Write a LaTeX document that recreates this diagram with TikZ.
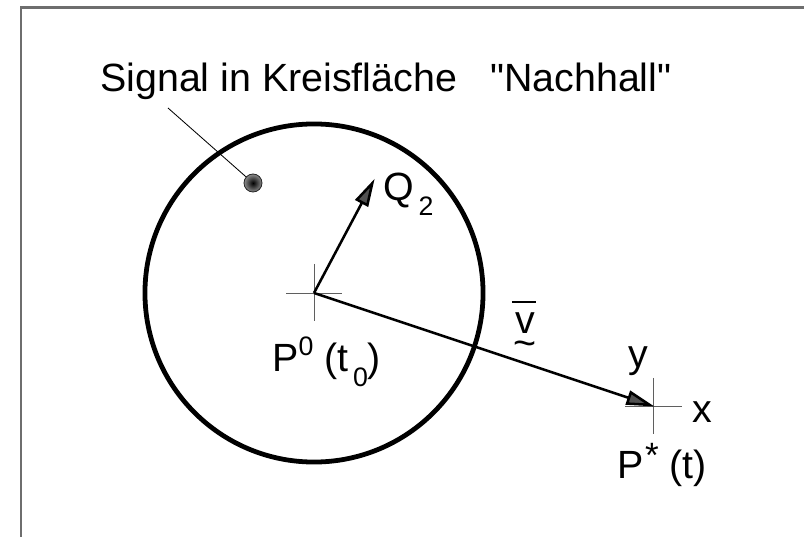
\documentclass[tikz,border=0pt]{standalone}
\usepackage{fontspec}
\setmainfont{Liberation Sans}
\usetikzlibrary{arrows.meta,positioning,calc,shadings}
\definecolor{framegray}{RGB}{110,110,110}
\definecolor{crossgray}{RGB}{95,95,95}
\definecolor{tipgray}{RGB}{80,80,80}
\newcommand\hochx[1]{\raisebox{0.42em}{\fontsize{19}{19}\selectfont #1}}
\newcommand\tiefx[1]{\hspace{0.12em}\raisebox{-0.38em}{\fontsize{19}{19}\selectfont #1}}
\newcommand\sternx{\hspace{0.04em}\raisebox{0.3em}{\fontsize{25}{25}\selectfont *}}
\tikzset{
  title/.style={
    font=\fontsize{28}{34}\selectfont,
    inner sep=0pt,
    anchor=base west
  },
  lbl/.style={
    font=\fontsize{28}{32}\selectfont,
    inner sep=0pt
  },
  vecarr/.style={
    -{Triangle[length=7mm,width=3.6mm,fill=tipgray]},
    line width=1.8pt,
    shorten >=-1pt
  },
  crossline/.style={draw=crossgray, line width=0.7pt},
  leader/.style={draw=black, line width=0.6pt},
  ring/.style={draw=black, line width=3.4pt}
}

\begin{document}
\begin{tikzpicture}[x=0.025cm, y=-0.025cm]
  \useasboundingbox (0,0) rectangle (804,537);
  % frame
  \draw[framegray, line width=1.5pt] (20.7,537) -- (20.7,7.5) -- (804,7.5);

  % points
  \coordinate (p0) at (314,293);
  \coordinate (pstar) at (653,406);
  \coordinate (q2tip) at (374,180);
  \coordinate (sig) at (253,183);
  \coordinate (leadstart) at (168,108);

  % circle round P0
  \draw[ring] (p0) circle (4.225cm);

  % crosses
  \draw[crossline] ($(p0)+(-28,0)$) -- ($(p0)+(28,0)$);
  \draw[crossline] ($(p0)+(0,-29)$) -- ($(p0)+(0,28)$);
  \draw[crossline] ($(pstar)+(-28,0)$) -- ($(pstar)+(29,0)$);
  \draw[crossline] ($(pstar)+(0,-28)$) -- ($(pstar)+(0,28)$);

  % vectors
  \draw[vecarr] (p0) -- (q2tip);
  \draw[vecarr] (p0) -- (pstar);

  % signal dot
  \draw[leader] (leadstart) -- (sig);
  \shade[inner color=black, outer color=black!45, draw=black!85, line width=0.6pt] (sig) circle (0.225cm);

  % texts
  \node[title] (sigtext) at (100,92) {Signal in Kreisfläche};
  \node[title] (nachhall) at (490,92) {\textquotedbl Nachhall\textquotedbl};
  \node[lbl, anchor=base west] (q2) at (383,201) {Q\tiefx{2}};
  \node[lbl, anchor=base west] (p0lbl) at (272,372) {P\hochx{0} (t\tiefx{0})};
  \node[lbl, anchor=base] (vlbl) at (524,334)
    {\rule[0.78em]{0.62em}{1.6pt}\llap{v\hspace{0.03em}}\llap{\smash{\raisebox{-0.56em}{\textasciitilde}}\hspace{-0.01em}}};
  \node[lbl, anchor=base] (ylbl) at (638,368) {y};
  \node[lbl, anchor=base] (xlbl) at (702,423) {x};
  \node[lbl, anchor=base west] (pstarlbl) at (617,479) {P\sternx\ (t)};
\end{tikzpicture}
\end{document}
